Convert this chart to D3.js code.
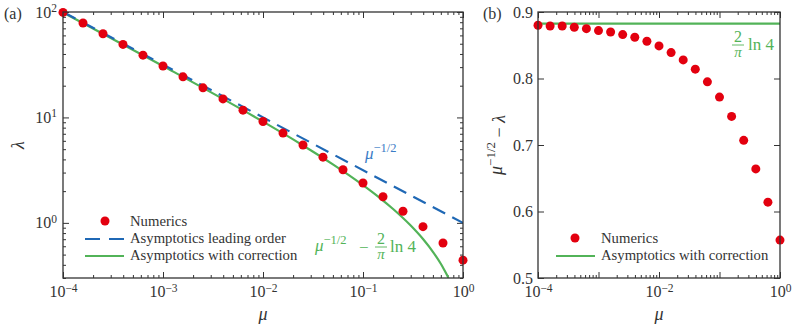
<!DOCTYPE html>
<html>
<head>
<meta charset="utf-8">
<style>
  body { margin: 0; background: #fff; }
  svg text { font-family: 'Liberation Serif', 'Times New Roman', 'DejaVu Serif', serif; }
  .axis .domain { display: none; }
  .axis line { stroke: #333; stroke-width: 1; }
  .axis text { font-size: 16px; fill: #333; }
  .legend text { font-size: 14.7px; fill: #333; }
  .frame { fill: none; stroke: #333; stroke-width: 1.3; }
</style>
</head>
<body>
<svg width="793" height="326" font-family="Liberation Serif"></svg>
<script src="https://d3js.org/d3.v7.min.js"></script>
<script>
// data
let mu = [1e-4, 1.585e-4, 2.512e-4, 3.981e-4, 6.31e-4, 1e-3, 1.585e-3, 2.512e-3, 3.981e-3, 6.31e-3,
          1e-2, 1.585e-2, 2.512e-2, 3.981e-2, 6.31e-2, 1e-1, 0.1585, 0.2512, 0.3981, 0.631, 1];
let lambdaNum = [99.12, 78.55, 62.22, 49.24, 38.94, 30.75, 24.25, 19.09, 14.99, 11.73,
                 9.15, 7.10, 5.48, 4.20, 3.19, 2.39, 1.77, 1.29, 0.92, 0.645, 0.443];
let diffNum = [0.880, 0.879, 0.879, 0.877, 0.875, 0.872, 0.870, 0.866, 0.862, 0.856,
               0.849, 0.839, 0.828, 0.814, 0.795, 0.772, 0.743, 0.707, 0.664, 0.614, 0.557];

// asymptotics leading order (straight on log-log)
let leadMu = [1e-4, 1];
let leadLambda = [100, 1];

// asymptotics with correction, sampled
let corrMu = [1e-4, 1e-3, 1e-2, 0.02, 0.03, 0.05, 0.1, 0.15, 0.2, 0.3, 0.4, 0.5, 0.6, 0.65, 0.7, 0.715];
let corrLambda = [99.12, 30.74, 9.12, 6.19, 4.89, 3.59, 2.28, 1.70, 1.354, 0.943, 0.699, 0.532, 0.409, 0.358, 0.313, 0.300];
let corrConst = 0.8825;

let xMajor = [1e-4, 1e-3, 1e-2, 1e-1, 1];
let yMajorL = [1, 10, 100];
let yMajorR = [0.5, 0.6, 0.7, 0.8, 0.9];

let red = "#e3000f", blue = "#1f68b5", green = "#52b358";
let serif = "'Liberation Serif', 'Times New Roman', serif";

let svg = d3.select("svg");

function minorLog(lo, hi) {
  let out = [];
  for (let e = lo; e < hi; e++) {
    for (let k = 2; k <= 9; k++) out.push(k * Math.pow(10, e));
  }
  return out;
}

function powLabel(sel, fmt) {
  sel.selectAll(".tick text").each(function (d) {
    let t = d3.select(this);
    let e = Math.round(Math.log10(d));
    t.text("");
    if (fmt && !fmt(e)) return;
    t.append("tspan").text("10");
    t.append("tspan").attr("dy", "-0.5em").style("font-size", "11.5px")
      .text(e < 0 ? "\u2212" + (-e) : e);
  });
}

function axisG(g, tr) {
  return g.append("g").attr("class", "axis").attr("transform", tr);
}
function fixFont(sel) {
  sel.attr("font-family", serif).attr("font-size", null);
  return sel;
}

function xAxes(g, x, top, bottom, xFmt) {
  axisG(g, `translate(0,${bottom})`)
    .call(d3.axisBottom(x).tickValues(minorLog(-4, 0)).tickSize(-3).tickFormat(""));
  let xb = axisG(g, `translate(0,${bottom})`)
    .call(d3.axisBottom(x).tickValues(xMajor).tickSize(-6).tickPadding(8));
  fixFont(xb);
  powLabel(xb, xFmt);
  axisG(g, `translate(0,${top})`)
    .call(d3.axisTop(x).tickValues(minorLog(-4, 0)).tickSize(-3).tickFormat(""));
  axisG(g, `translate(0,${top})`)
    .call(d3.axisTop(x).tickValues(xMajor).tickSize(-6).tickFormat(""));
}

// ---------- panel (a) ----------
let xL = d3.scaleLog().domain([1e-4, 1]).range([63, 463]);
let yL = d3.scaleLog().domain([0.3, 100]).range([278, 12]);
let gA = svg.append("g");

xAxes(gA, xL, 12, 278, null);
let yMinorL = minorLog(-1, 2).filter(v => v >= 0.3);
axisG(gA, "translate(63,0)")
  .call(d3.axisLeft(yL).tickValues(yMinorL).tickSize(-3).tickFormat(""));
let ya = axisG(gA, "translate(63,0)")
  .call(d3.axisLeft(yL).tickValues(yMajorL).tickSize(-6).tickPadding(6));
fixFont(ya);
powLabel(ya, null);
axisG(gA, "translate(463,0)")
  .call(d3.axisRight(yL).tickValues(yMinorL).tickSize(-3).tickFormat(""));
axisG(gA, "translate(463,0)")
  .call(d3.axisRight(yL).tickValues(yMajorL).tickSize(-6).tickFormat(""));

svg.append("clipPath").attr("id", "clipA").append("rect")
  .attr("x", 63).attr("y", 12).attr("width", 400).attr("height", 266);

let plotA = gA.append("g").attr("clip-path", "url(#clipA)");

plotA.append("path")
  .datum(corrMu.map((m, i) => [m, corrLambda[i]]))
  .attr("d", d3.line().x(d => xL(d[0])).y(d => yL(d[1])).curve(d3.curveMonotoneX))
  .attr("fill", "none").attr("stroke", green).attr("stroke-width", 2.2);
plotA.append("path")
  .datum(leadMu.map((m, i) => [m, leadLambda[i]]))
  .attr("d", d3.line().x(d => xL(d[0])).y(d => yL(d[1])))
  .attr("fill", "none").attr("stroke", blue).attr("stroke-width", 2.2)
  .attr("stroke-dasharray", "14,8");

gA.selectAll("circle.num").data(mu).join("circle").attr("class", "num")
  .attr("cx", d => xL(d)).attr("cy", (d, i) => yL(lambdaNum[i]))
  .attr("r", 4.5).attr("fill", red);

gA.append("rect").attr("class", "frame").attr("x", 63).attr("y", 12).attr("width", 400).attr("height", 266);

// labels
svg.append("text").attr("x", 4).attr("y", 19).style("font-size", "16px").attr("fill", "#333").text("(a)");
svg.append("text").attr("transform", "translate(24,145) rotate(-90)").attr("text-anchor", "middle")
  .style("font-size", "18px").style("font-style", "italic").attr("fill", "#333").text("λ");
svg.append("text").attr("x", 263).attr("y", 320).attr("text-anchor", "middle")
  .style("font-size", "18px").style("font-style", "italic").attr("fill", "#333").text("μ");

// annotations
let a1 = svg.append("text").attr("x", 365).attr("y", 159).attr("fill", "#3a7cc6").style("font-size", "17px");
a1.append("tspan").style("font-style", "italic").text("μ");
a1.append("tspan").attr("dy", "-0.55em").style("font-size", "12.5px").text("\u22121/2");

let a2 = svg.append("text").attr("x", 315).attr("y", 251).attr("fill", green).style("font-size", "17px");
a2.append("tspan").style("font-style", "italic").text("μ");
a2.append("tspan").attr("dy", "-0.55em").style("font-size", "12.5px").text("\u22121/2");
a2.append("tspan").attr("dy", "0.55em").attr("x", 359).text("\u2212");
svg.append("text").attr("x", 381).attr("y", 244).attr("text-anchor", "middle").attr("fill", green).style("font-size", "16px").text("2");
svg.append("line").attr("x1", 375).attr("x2", 387).attr("y1", 247).attr("y2", 247).attr("stroke", green).attr("stroke-width", 0.9);
svg.append("text").attr("x", 381).attr("y", 259).attr("text-anchor", "middle").attr("fill", green).style("font-size", "15px").style("font-style", "italic").text("π");
svg.append("text").attr("x", 390).attr("y", 252).attr("fill", green).style("font-size", "17px").text("ln 4");

// legend (a)
let legA = svg.append("g").attr("class", "legend");
legA.append("circle").attr("cx", 105).attr("cy", 221).attr("r", 4.5).attr("fill", red);
legA.append("text").attr("x", 130).attr("y", 225.5).text("Numerics");
legA.append("line").attr("x1", 85).attr("x2", 124).attr("y1", 239).attr("y2", 239)
  .attr("stroke", blue).attr("stroke-width", 2.2).attr("stroke-dasharray", "15,9");
legA.append("text").attr("x", 130).attr("y", 243).text("Asymptotics leading order");
legA.append("line").attr("x1", 85).attr("x2", 124).attr("y1", 256).attr("y2", 256)
  .attr("stroke", green).attr("stroke-width", 2.2);
legA.append("text").attr("x", 130).attr("y", 260).text("Asymptotics with correction");

// ---------- panel (b) ----------
let xR = d3.scaleLog().domain([1e-4, 1]).range([538, 780]);
let yR = d3.scaleLinear().domain([0.5, 0.9]).range([278, 12]);
let gB = svg.append("g");

xAxes(gB, xR, 12, 278, e => e % 2 === 0);
let yb = axisG(gB, "translate(538,0)")
  .call(d3.axisLeft(yR).tickValues(yMajorR).tickSize(-6).tickPadding(5).tickFormat(d3.format(".1f")));
fixFont(yb);
axisG(gB, "translate(780,0)")
  .call(d3.axisRight(yR).tickValues(yMajorR).tickSize(-6).tickFormat(""));

gB.append("line").attr("x1", xR(1e-4)).attr("x2", xR(1))
  .attr("y1", yR(corrConst)).attr("y2", yR(corrConst))
  .attr("stroke", green).attr("stroke-width", 2.2);

gB.selectAll("circle.num").data(mu).join("circle").attr("class", "num")
  .attr("cx", d => xR(d)).attr("cy", (d, i) => yR(diffNum[i]))
  .attr("r", 4.5).attr("fill", red);

gB.append("rect").attr("class", "frame").attr("x", 538).attr("y", 12).attr("width", 242).attr("height", 266);

svg.append("text").attr("x", 483).attr("y", 19).style("font-size", "16px").attr("fill", "#333").text("(b)");
let yl = svg.append("text").attr("transform", "translate(502,145) rotate(-90)").attr("text-anchor", "middle")
  .style("font-size", "18px").attr("fill", "#333");
yl.append("tspan").style("font-style", "italic").text("μ");
yl.append("tspan").attr("dy", "-0.55em").style("font-size", "13px").text("\u22121/2");
yl.append("tspan").attr("dy", "0.55em").text(" \u2212 ");
yl.append("tspan").style("font-style", "italic").text("λ");
svg.append("text").attr("x", 659).attr("y", 320).attr("text-anchor", "middle")
  .style("font-size", "18px").style("font-style", "italic").attr("fill", "#333").text("μ");

// annotation (b)
svg.append("text").attr("x", 738).attr("y", 42).attr("text-anchor", "middle").attr("fill", green).style("font-size", "16px").text("2");
svg.append("line").attr("x1", 732).attr("x2", 744).attr("y1", 45).attr("y2", 45).attr("stroke", green).attr("stroke-width", 0.9);
svg.append("text").attr("x", 738).attr("y", 57).attr("text-anchor", "middle").attr("fill", green).style("font-size", "15px").style("font-style", "italic").text("π");
svg.append("text").attr("x", 748).attr("y", 50).attr("fill", green).style("font-size", "17px").text("ln 4");

// legend (b)
let legB = svg.append("g").attr("class", "legend");
legB.append("circle").attr("cx", 575).attr("cy", 238).attr("r", 4.5).attr("fill", red);
legB.append("text").attr("x", 601).attr("y", 242.5).text("Numerics");
legB.append("line").attr("x1", 556).attr("x2", 595).attr("y1", 256).attr("y2", 256)
  .attr("stroke", green).attr("stroke-width", 2.2);
legB.append("text").attr("x", 601).attr("y", 260).text("Asymptotics with correction");
</script>
</body>
</html>
